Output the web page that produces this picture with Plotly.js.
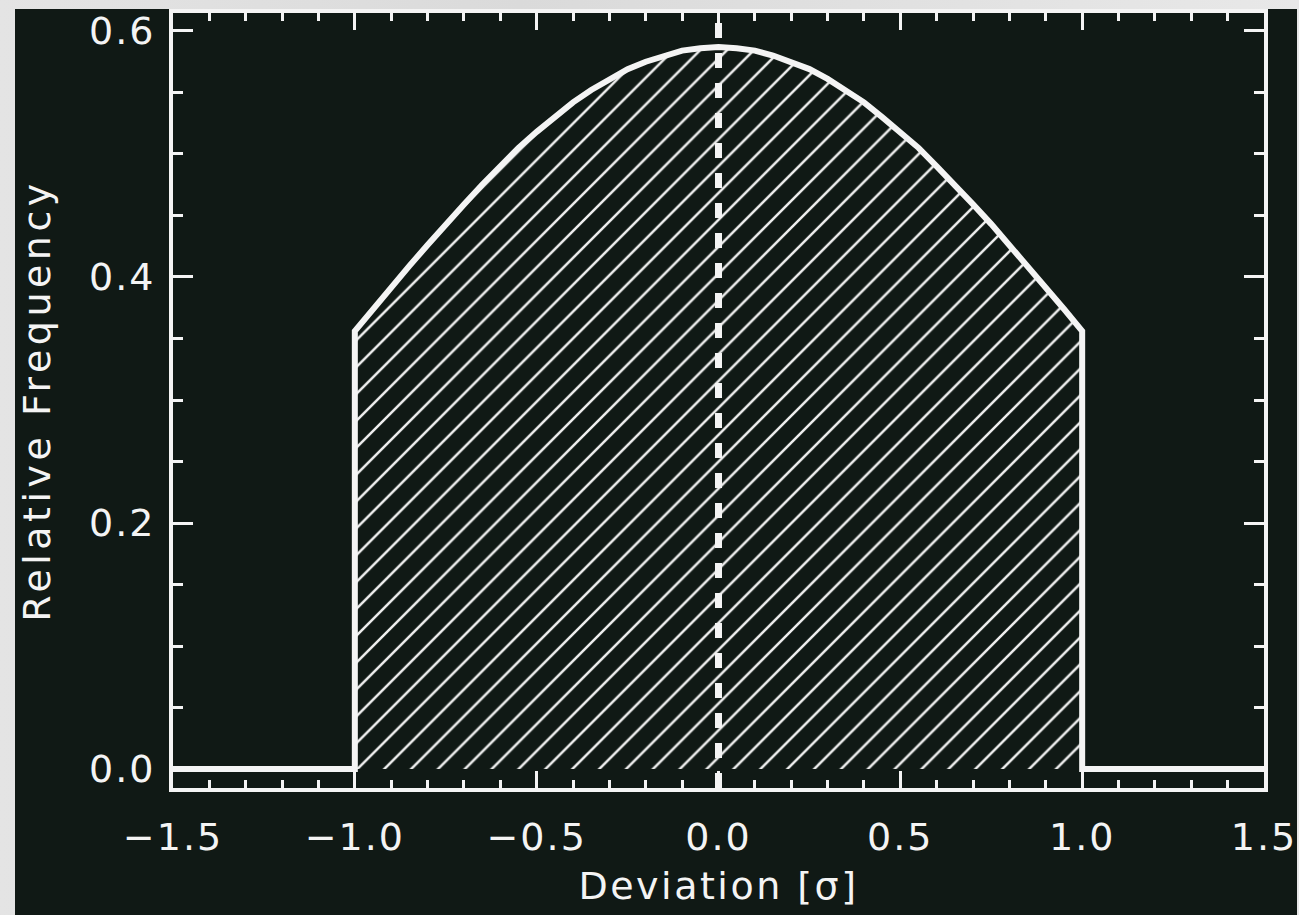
<!DOCTYPE html>
<html>
<head>
<meta charset="utf-8">
<script src="https://cdn.plot.ly/plotly-3.0.1.min.js"></script>
<style>
  html, body { margin: 0; padding: 0; width: 1299px; height: 915px; overflow: hidden;
    background: linear-gradient(90deg, #e4e4e4, #dadada 40%, #e8e8e8); }
  #chart { position: absolute; left: 15px; top: 9px; width: 1282px; height: 906px; }
  #chart .xtick text, #chart .ytick text { letter-spacing: 2px; }
  #chart text.xtitle { letter-spacing: 2.5px; }
  #chart text.ytitle { letter-spacing: 4.5px; }
</style>
</head>
<body>
<div id="chart"></div>
<script>
// Deviation in units of sigma
const deviation = [-1.5, -1.0, -1.0, -0.95, -0.9, -0.85, -0.8, -0.75, -0.7, -0.65, -0.6, -0.55, -0.5,
  -0.45, -0.4, -0.35, -0.3, -0.25, -0.2, -0.15, -0.1, -0.05, 0.0,
  0.05, 0.1, 0.15, 0.2, 0.25, 0.3, 0.35, 0.4, 0.45, 0.5, 0.55, 0.6, 0.65, 0.7, 0.75, 0.8, 0.85, 0.9, 0.95,
  1.0, 1.0, 1.5];
// Relative frequency
const frequency = [0.0, 0.0, 0.356, 0.374, 0.392, 0.409, 0.426, 0.443, 0.459, 0.475, 0.490, 0.505, 0.518,
  0.530, 0.542, 0.552, 0.561, 0.569, 0.575, 0.580, 0.584, 0.586, 0.587,
  0.586, 0.584, 0.580, 0.575, 0.569, 0.561, 0.552, 0.542, 0.530, 0.518, 0.505, 0.490, 0.475, 0.459, 0.443, 0.426, 0.409, 0.392, 0.374,
  0.356, 0.0, 0.0];
// Mean marker (dashed line at 0 sigma)
const meanX = [0.0, 0.0];
const meanY = [0.6065, -0.0154];

const xTickVals = [-1.5, -1.0, -0.5, 0.0, 0.5, 1.0, 1.5];
const xTickText = ['\u22121.5', '\u22121.0', '\u22120.5', '0.0', '0.5', '1.0', '1.5'];
const yTickVals = [0.0, 0.2, 0.4, 0.6];
const yTickText = ['0.0', '0.2', '0.4', '0.6'];

const FG = '#f4f4f4';
const BG = '#101915';
const FONT = '"DejaVu Sans", "Liberation Sans", sans-serif';
const FS = 38;

const traces = [
  {
    x: deviation, y: frequency, type: 'scatter', mode: 'lines',
    fill: 'tozeroy',
    fillcolor: 'rgba(0,0,0,0)',
    fillpattern: { shape: '/', fgcolor: '#f0f0f0', bgcolor: 'rgba(0,0,0,0)', size: 19, solidity: 0.13 },
    line: { color: FG, width: 6 },
    hoverinfo: 'skip', showlegend: false
  },
  {
    x: meanX, y: meanY, type: 'scatter', mode: 'lines',
    line: { color: FG, width: 7, dash: '15px,15px' },
    hoverinfo: 'skip', showlegend: false
  }
];

const layout = {
  width: 1282, height: 906,
  paper_bgcolor: BG, plot_bgcolor: BG,
  margin: { l: 158, r: 33, t: 4, b: 127, pad: 0 },
  font: { family: FONT, color: FG, size: FS },
  showlegend: false,
  xaxis: {
    range: [-1.5, 1.5], showgrid: false, zeroline: false,
    showline: true, linecolor: FG, linewidth: 4, mirror: 'ticks',
    ticks: 'inside', ticklen: 17, tickwidth: 3, tickcolor: FG,
    tickmode: 'array', tickvals: xTickVals, ticktext: xTickText,
    ticklabelstandoff: 12, ticklabeloverflow: 'allow',
    tickfont: { family: FONT, size: FS, color: FG },
    minor: { dtick: 0.1, ticks: 'inside', ticklen: 8, tickwidth: 3, tickcolor: FG, showgrid: false },
    title: { text: 'Deviation [\u03c3]', font: { family: FONT, size: FS, color: FG }, standoff: 16 }
  },
  yaxis: {
    range: [-0.0154, 0.6146], showgrid: false, zeroline: false,
    showline: true, linecolor: FG, linewidth: 4, mirror: 'ticks',
    ticks: 'inside', ticklen: 20, tickwidth: 3, tickcolor: FG,
    tickmode: 'array', tickvals: yTickVals, ticktext: yTickText,
    ticklabelstandoff: 6, ticklabeloverflow: 'allow',
    tickfont: { family: FONT, size: FS, color: FG },
    minor: { dtick: 0.05, ticks: 'inside', ticklen: 10, tickwidth: 3, tickcolor: FG, showgrid: false },
    title: { text: 'Relative Frequency', font: { family: FONT, size: FS, color: FG }, standoff: 38 }
  }
};

Plotly.newPlot('chart', traces, layout, { staticPlot: true, displayModeBar: false });
</script>
</body>
</html>
